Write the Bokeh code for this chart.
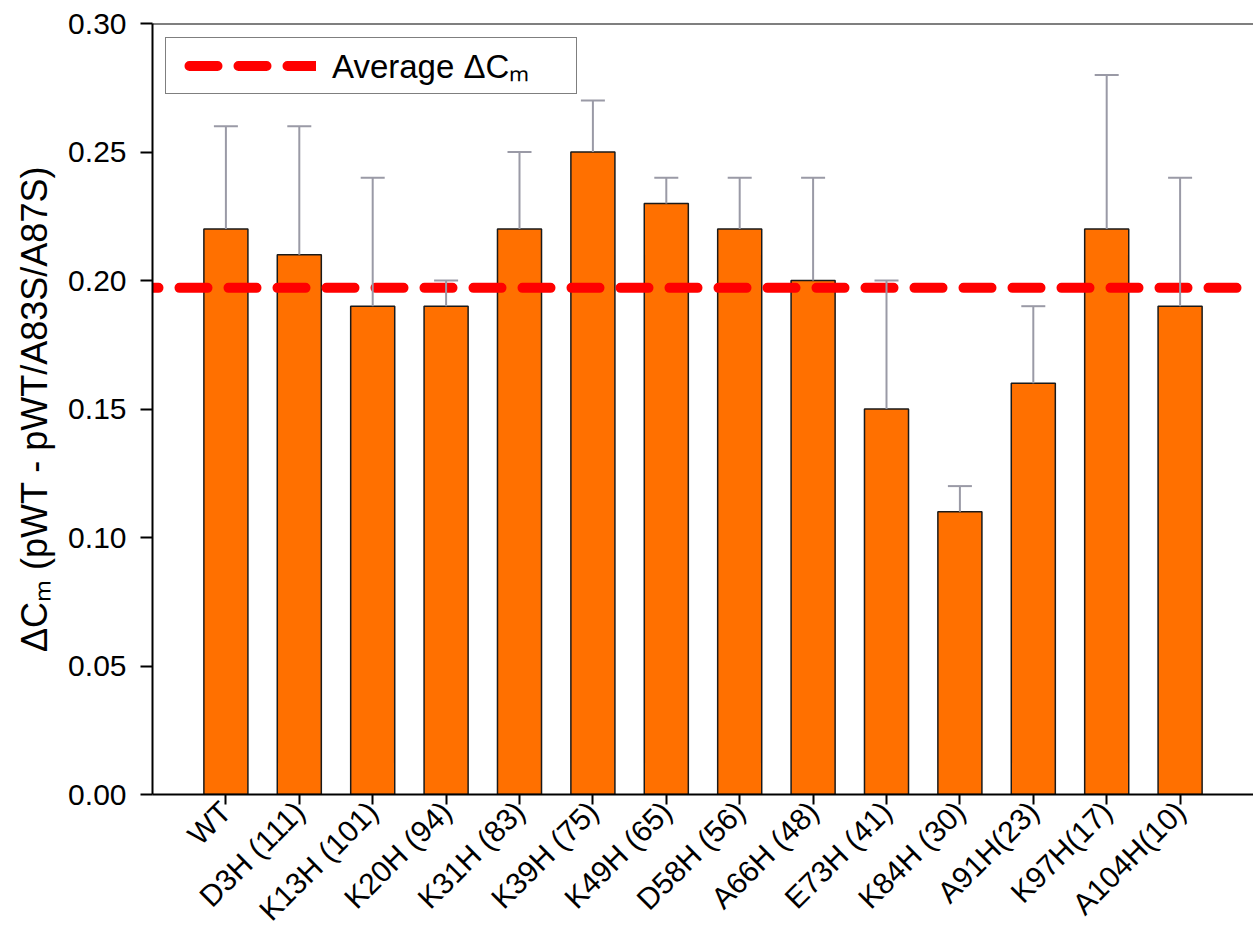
import math
from bokeh.plotting import figure
from bokeh.models import (Range1d, FixedTicker, NumeralTickFormatter, Span,
                          Legend, LegendItem, ColumnDataSource)
from bokeh.embed import file_html
from bokeh.resources import INLINE

# ---------------- data ----------------
mutants = ["WT", "D3H (111)", "K13H (101)", "K20H (94)", "K31H (83)", "K39H (75)",
           "K49H (65)", "D58H (56)", "A66H (48)", "E73H (41)", "K84H (30)",
           "A91H(23)", "K97H(17)", "A104H(10)"]
delta_cm = [0.22, 0.21, 0.19, 0.19, 0.22, 0.25, 0.23, 0.22, 0.20, 0.15, 0.11,
            0.16, 0.22, 0.19]
error_upper = [0.26, 0.26, 0.24, 0.20, 0.25, 0.27, 0.24, 0.24, 0.24, 0.20, 0.12,
               0.19, 0.28, 0.24]
y_ticks = [0.00, 0.05, 0.10, 0.15, 0.20, 0.25, 0.30]
average_delta_cm = sum(delta_cm) / len(delta_cm)

FONT = "Liberation Sans"
positions = list(range(1, len(mutants) + 1))
x_start, x_end = 0, len(mutants) + 1
y_start, y_end = y_ticks[0], y_ticks[-1]

src = ColumnDataSource(dict(x=positions, top=delta_cm, upper=error_upper))

p = figure(width=1253, height=941, output_backend="svg", toolbar_location=None,
           x_range=Range1d(x_start, x_end), y_range=Range1d(y_start, y_end),
           min_border_left=152, min_border_right=0, min_border_top=23,
           min_border_bottom=147)
p.background_fill_color = "white"
p.border_fill_color = "white"
p.outline_line_color = None
p.xgrid.visible = False
p.ygrid.visible = False

# bars
p.vbar(x="x", top="top", bottom=0, width=0.6, source=src,
       fill_color="#ff7000", line_color="#1a1a1a", line_width=1.5)

# average line
avg_line = p.line(x=[x_start, x_end], y=[average_delta_cm, average_delta_cm],
                  line_color="#ff0000", line_width=10, line_dash="28 21",
                  line_dash_offset=22, line_cap="round")

# error bars (upper only)
p.segment(x0="x", y0="top", x1="x", y1="upper", source=src,
          line_color="#9a9aa6", line_width=2)
p.scatter(x="x", y="upper", source=src, marker="dash", size=24,
          line_color="#9a9aa6", line_width=2)

# top frame line
p.add_layout(Span(location=y_end, dimension="width", line_color="black",
                  line_width=2))

# legend proxy (single point: draws nothing itself, only its legend glyph)
leg_line = p.line(x=[x_start], y=[average_delta_cm], line_color="#ff0000",
                  line_width=10, line_dash="28 21", line_dash_offset=31,
                  line_cap="round")
legend = Legend(items=[LegendItem(label="Average \u0394C\u2098", renderers=[leg_line])],
                location=(13, 700), orientation="vertical",
                padding=5, spacing=0, margin=0,
                glyph_width=145, glyph_height=37, label_standoff=16,
                label_width=239, label_height=37,
                label_text_font=FONT, label_text_font_size="33px",
                label_text_color="black",
                border_line_color="black", border_line_width=1.5,
                background_fill_color="white", background_fill_alpha=1.0)
p.add_layout(legend)

# axes
yax = p.yaxis[0]
yax.ticker = FixedTicker(ticks=y_ticks)
yax.formatter = NumeralTickFormatter(format="0.00")
yax.major_label_text_font = FONT
yax.major_label_text_font_size = "30px"
yax.major_label_text_color = "black"
yax.axis_line_color = "black"
yax.axis_line_width = 2
yax.major_tick_line_color = "black"
yax.major_tick_line_width = 2
yax.major_tick_out = 12
yax.major_tick_in = 0
yax.minor_tick_line_color = None
yax.major_label_standoff = 14
yax.axis_label = "\u0394C\u2098 (pWT - pWT/A83S/A87S)"
yax.axis_label_text_font = FONT
yax.axis_label_text_font_size = "36px"
yax.axis_label_text_font_style = "normal"
yax.axis_label_text_color = "black"
yax.axis_label_standoff = 10

xax = p.xaxis[0]
xax.ticker = FixedTicker(ticks=positions)
xax.major_label_overrides = {pos: lab for pos, lab in zip(positions, mutants)}
xax.major_label_orientation = math.pi / 4
xax.major_label_text_font = FONT
xax.major_label_text_font_size = "30px"
xax.major_label_text_color = "black"
xax.axis_line_color = "black"
xax.axis_line_width = 2
xax.major_tick_line_color = "black"
xax.major_tick_line_width = 2
xax.major_tick_out = 10
xax.major_tick_in = 0
xax.minor_tick_line_color = None
xax.major_label_standoff = 2

open("out.html", "w").write(file_html(p, INLINE))
